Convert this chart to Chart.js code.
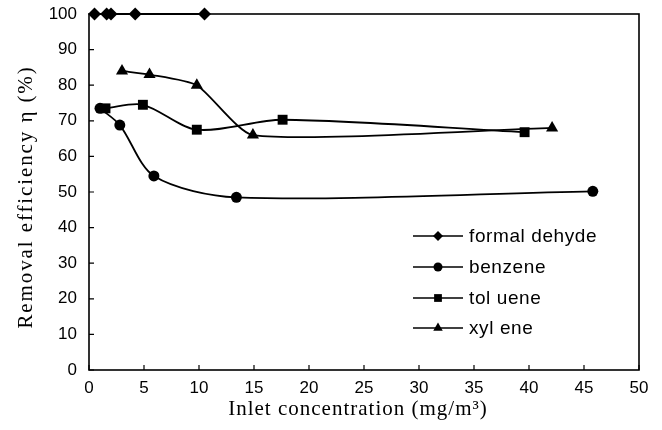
<!DOCTYPE html>
<html><head><meta charset="utf-8">
<script src="https://cdn.jsdelivr.net/npm/chart.js@4/dist/chart.umd.min.js"></script>
<style>html,body{margin:0;padding:0;background:#fff}#wrap{width:662px;height:430px}</style>
</head><body><div id="wrap"><canvas id="c" width="662" height="430"></canvas></div>
<script>
const seriesNames = ['formal dehyde', 'benzene', 'tol uene', 'xyl ene'];
const formaldehydeX = [0.5, 1.6, 2.0, 4.2, 10.5];
const formaldehydeY = [100, 100, 100, 100, 100];
const benzeneX = [1.0, 2.8, 5.9, 13.4, 45.8];
const benzeneY = [73.5, 68.8, 54.5, 48.5, 50.2];
const tolueneX = [1.5, 4.9, 9.8, 17.6, 39.6];
const tolueneY = [73.5, 74.5, 67.5, 70.3, 66.8];
const xyleneX = [3.0, 5.5, 9.8, 14.9, 42.1];
const xyleneY = [84, 83, 80, 66, 68];
const xTicks = [0, 5, 10, 15, 20, 25, 30, 35, 40, 45, 50];
const yTicks = [0, 10, 20, 30, 40, 50, 60, 70, 80, 90, 100];
const xTitle = 'Inlet concentration (mg/m\u00B3)';
const yTitle = 'Removal efficiency \u03B7 (%)';

function pts(xs, ys){ return xs.map((x,i)=>({x:x, y:ys[i]})); }
const styles = [
  {pointStyle:'rectRot', radius:6.5, legendRadius:5, tension:0.3},
  {pointStyle:'circle', radius:5.5, legendRadius:4.5, tension:0.3},
  {pointStyle:'rect', radius:7, legendRadius:5.5, tension:0.3},
  {pointStyle:'triangle', radius:7, legendRadius:5.5, tension:0.2}
];
const allData = [pts(formaldehydeX, formaldehydeY), pts(benzeneX, benzeneY), pts(tolueneX, tolueneY), pts(xyleneX, xyleneY)];
const datasets = allData.map((d,i)=>({
  label: seriesNames[i], data: d, borderColor:'#000', backgroundColor:'#000',
  borderWidth:1.8, pointStyle: styles[i].pointStyle, pointRadius: styles[i].radius,
  pointBorderWidth:0, pointBackgroundColor:'#000', tension:styles[i].tension, clip:false, fill:false
}));

const framePlugin = {
  id:'frame',
  afterDraw(chart){
    const ctx = chart.ctx, a = chart.chartArea;
    const xs = chart.scales.x, ys = chart.scales.y;
    ctx.save();
    ctx.strokeStyle = '#000'; ctx.lineWidth = 1.6;
    ctx.strokeRect(a.left, a.top, a.right - a.left, a.bottom - a.top);
    ctx.lineWidth = 1.2;
    ctx.beginPath();
    xTicks.forEach(v=>{ const p = xs.getPixelForValue(v); ctx.moveTo(p, a.bottom); ctx.lineTo(p, a.bottom-5); });
    yTicks.forEach(v=>{ const p = ys.getPixelForValue(v); ctx.moveTo(a.left, p); ctx.lineTo(a.left+5, p); });
    ctx.stroke();
    // axis titles
    ctx.fillStyle = '#000'; ctx.textAlign = 'center'; ctx.textBaseline = 'middle';
    ctx.font = '21px "Liberation Serif", "Times New Roman", serif';
    ctx.letterSpacing = '1px';
    ctx.fillText(xTitle, (a.left + a.right)/2 - 6, 409);
    ctx.letterSpacing = '1.9px';
    ctx.save();
    ctx.translate(26, 197); ctx.rotate(-Math.PI/2);
    ctx.fillText(yTitle, 0, 0);
    ctx.restore();
    // legend
    const lx = 413, lw = 50, ty = [236, 267, 298, 328];
    ctx.font = '19px "Liberation Sans", Arial, sans-serif';
    ctx.letterSpacing = '0.6px';
    ctx.textBaseline = 'middle'; ctx.textAlign = 'left';
    chart.data.datasets.forEach((ds,i)=>{
      const y = ty[i];
      ctx.lineWidth = 1.6; ctx.strokeStyle = '#000';
      ctx.beginPath(); ctx.moveTo(lx, y); ctx.lineTo(lx+lw, y); ctx.stroke();
      Chart.helpers.drawPoint(ctx, {pointStyle: ds.pointStyle, radius: styles[i].legendRadius, borderWidth:0}, lx+lw/2, y);
      ctx.fillText(ds.label, lx+lw+6, y+1);
    });
    ctx.restore();
  }
};

new Chart(document.getElementById('c'), {
  type:'line',
  data:{datasets},
  options:{
    responsive:false, animation:false, devicePixelRatio:1,
    layout:{padding:{top:14, right:23, left:0, bottom:0}},
    plugins:{legend:{display:false}, tooltip:{enabled:false}},
    scales:{
      x:{type:'linear', min:0, max:50, 
        afterBuildTicks(s){ s.ticks = xTicks.map(v=>({value:v})); },
        afterFit(s){ s.height = 60; s.paddingLeft = 0; s.paddingRight = 0; },
        grid:{display:false, drawTicks:false}, border:{display:false},
        ticks:{color:'#000', padding:8, font:{family:'"Liberation Sans", Arial, sans-serif', size:17}, maxRotation:0, autoSkip:false}
      },
      y:{type:'linear', min:0, max:100,
        afterBuildTicks(s){ s.ticks = yTicks.map(v=>({value:v})); },
        afterFit(s){ s.width = 89; s.paddingTop = 0; s.paddingBottom = 0; },
        grid:{display:false, drawTicks:false}, border:{display:false},
        ticks:{color:'#000', padding:12, font:{family:'"Liberation Sans", Arial, sans-serif', size:17}, autoSkip:false}
      }
    }
  },
  plugins:[framePlugin]
});
</script></body></html>
